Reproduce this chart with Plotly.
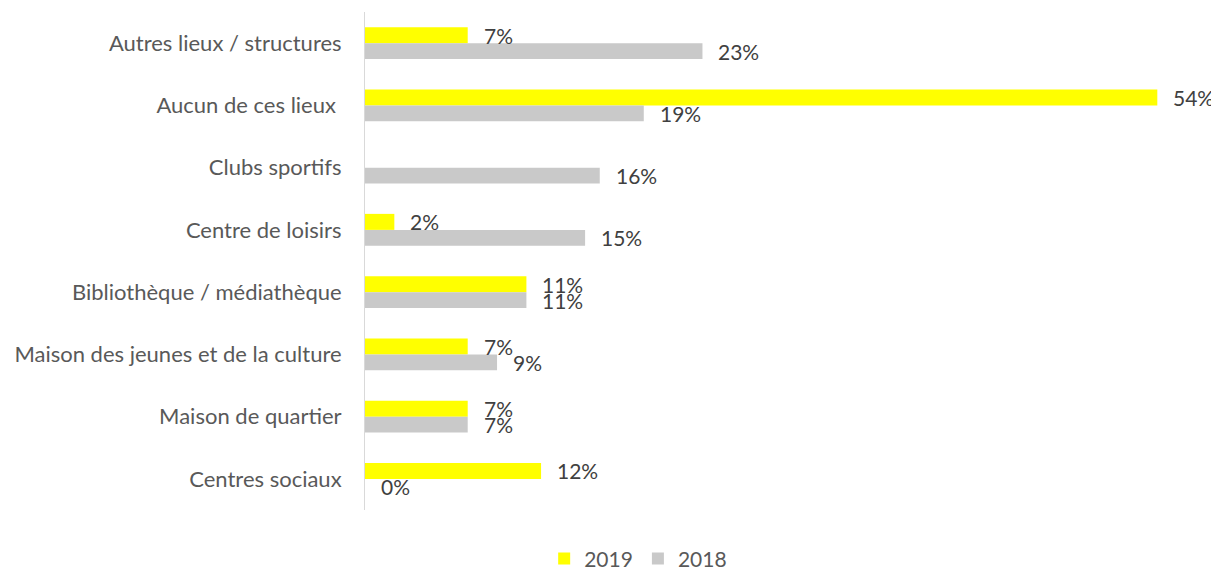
import plotly.graph_objects as go

categories = [
    "Autres lieux / structures",
    "Aucun de ces lieux ",
    "Clubs sportifs",
    "Centre de loisirs",
    "Bibliothèque / médiathèque",
    "Maison des jeunes et de la culture",
    "Maison de quartier",
    "Centres sociaux",
]
values_2019 = [7, 54, None, 2, 11, 7, 7, 12]
values_2018 = [23, 19, 16, 15, 11, 9, 7, 0]
series_names = ["2019", "2018"]
colors = ["#FFFF00", "#C9C9C9"]

FONT = "Lato"
FS = 21
fig = go.Figure()
for name, vals, col in zip(series_names, [values_2019, values_2018], colors):
    fig.add_trace(go.Bar(
        y=categories, x=vals, name=name, orientation="h",
        marker=dict(color=col, line=dict(width=0)),
        hoverinfo="x+y",
    ))

annotations = []
for vals, shift in [(values_2019, 8), (values_2018, -8)]:
    for cat, v in zip(categories, vals):
        if v is None:
            continue
        annotations.append(dict(
            x=v, y=cat, xref="x", yref="y", text=f"{v}%", showarrow=False,
            xanchor="left", yanchor="middle", xshift=14, yshift=shift,
            font=dict(family=FONT, size=FS, color="#404040"),
        ))

# page body has an 8px margin: figure is sized to fit the 1219x571 window
fig.update_layout(
    width=1211, height=563,
    barmode="group", bargap=0.486, bargroupgap=0,
    plot_bgcolor="white", paper_bgcolor="white",
    margin=dict(l=357, r=3, t=4, b=61, autoexpand=False),
    font=dict(family=FONT, size=FS, color="#595959"),
    xaxis=dict(range=[0, 58], visible=False, fixedrange=True, automargin=False),
    yaxis=dict(categoryorder="array", categoryarray=categories, autorange="reversed",
               showline=True, linecolor="#D9D9D9", linewidth=1, showgrid=False,
               ticks="", ticklabelstandoff=18, zeroline=False, automargin=False,
               tickfont=dict(family=FONT, size=22, color="#595959")),
    legend=dict(orientation="h", xref="paper", yref="paper", x=0.321, y=-0.098,
                xanchor="center", yanchor="middle", tracegroupgap=0,
                font=dict(family=FONT, size=FS, color="#595959"), itemwidth=30),
    annotations=annotations,
    showlegend=True,
)
fig.write_html("out.html")
